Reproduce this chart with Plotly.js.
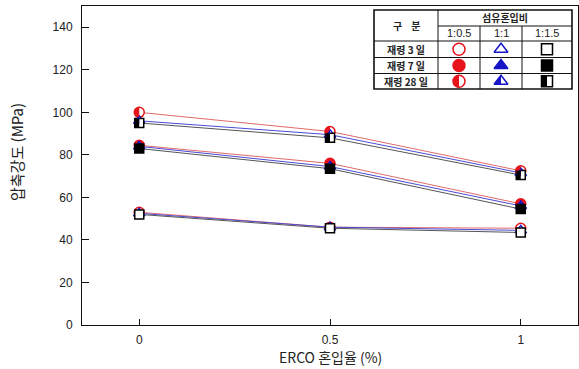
<!DOCTYPE html>
<html><head><meta charset="utf-8">
<script src="https://cdn.plot.ly/plotly-3.0.1.min.js"></script>
<style>html,body{margin:0;padding:0;background:#fff}#chart{width:579px;height:369px}</style>
</head><body><div id="chart"></div>
<script>
// ---- data ----
const ercoRatio = [0, 0.5, 1];
const xTickLabels = ['0', '0.5', '1'];
const yTickValues = [0, 20, 40, 60, 80, 100, 120, 140];
const ageLabels = ['재령 3 일', '재령 7 일', '재령 28 일'];
const fiberRatios = ['1:0.5', '1:1', '1:1.5'];
const day3_r05 = [53, 46, 45.5];
const day3_r1 = [52.5, 46, 44.5];
const day3_r15 = [52, 45.5, 43.5];
const day7_r05 = [84.5, 76, 57];
const day7_r1 = [84, 74.5, 56];
const day7_r15 = [83, 73.5, 54.5];
const day28_r05 = [100, 91, 72.5];
const day28_r1 = [96, 89.5, 71.5];
const day28_r15 = [95, 88, 70.5];

// ---- styling ----
const W = 579, H = 369, L = 82, R = 1, T = 6, B = 44;
const markColors = ['#e8141b', '#1616c8', '#000000'];
const lineColors = ['#e06a6a', '#4a4ad8', '#555555'];
const symbols = ['circle', 'triangle-up', 'square'];
const markSizes = [10, 10, 9];
const legendSizes = [12, 12, 11];

const series = [
  [day3_r05, day3_r1, day3_r15],
  [day7_r05, day7_r1, day7_r15],
  [day28_r05, day28_r1, day28_r15]
];

// left-half fill path (pixel units, y up) for each symbol kind
function halfPath(kind, size) {
  const r = size / 2;
  let pts = [];
  if (kind === 0) {
    for (let i = 0; i <= 16; i++) { const t = Math.PI * i / 16; pts.push([-r * Math.sin(t), r * Math.cos(t)]); }
  } else if (kind === 1) {
    const rt = r * 2 / Math.sqrt(3);
    pts = [[-rt, -r / 2], [0, -r / 2], [0, r]];
  } else {
    pts = [[-r, -r], [0, -r], [0, r], [-r, r]];
  }
  return 'M' + pts.map(p => p[0].toFixed(2) + ',' + p[1].toFixed(2)).join('L') + 'Z';
}

const shapes = [];
const traces = [];
series.forEach((ageSeries, a) => {
  ageSeries.forEach((vals, r) => {
    traces.push({
      x: ercoRatio, y: vals, type: 'scatter', mode: 'lines+markers',
      line: {color: lineColors[r], width: 1},
      marker: {symbol: symbols[r], size: markSizes[r],
               color: a === 1 ? markColors[r] : '#ffffff',
               line: {color: markColors[r], width: 1.5}},
      hoverinfo: 'skip'
    });
    if (a === 2) {
      ercoRatio.forEach((xv, i) => shapes.push({type: 'path', xref: 'x', yref: 'y',
        xsizemode: 'pixel', ysizemode: 'pixel', xanchor: xv, yanchor: vals[i],
        path: halfPath(r, markSizes[r]), fillcolor: markColors[r], line: {width: 0}}));
    }
  });
});

// ---- legend table (pixel geometry) ----
const colEdges = [374, 438, 480, 522, 572];
const rowEdges = [10, 26, 41, 57.5, 73.5, 89];
const pw = W - L - R, ph = H - T - B;
const px = p => (p - L) / pw;
const py = p => (H - B - p) / ph;
const ln = (x0, y0, x1, y1, w) => shapes.push({type: 'line', xref: 'paper', yref: 'paper',
  x0: px(x0), y0: py(y0), x1: px(x1), y1: py(y1), line: {color: '#111', width: w || 1}});
shapes.push({type: 'rect', xref: 'paper', yref: 'paper', x0: px(colEdges[0]), x1: px(colEdges[4]),
  y0: py(rowEdges[0]), y1: py(rowEdges[5]), line: {color: '#111', width: 1.6}, fillcolor: '#ffffff', layer: 'below'});
ln(colEdges[1], rowEdges[0], colEdges[1], rowEdges[5]);
ln(colEdges[2], rowEdges[1], colEdges[2], rowEdges[5]);
ln(colEdges[3], rowEdges[1], colEdges[3], rowEdges[5]);
ln(colEdges[1], rowEdges[1], colEdges[4], rowEdges[1]);
for (let i = 2; i <= 4; i++) ln(colEdges[0], rowEdges[i], colEdges[4], rowEdges[i]);

const cFont = {family: 'Noto Sans CJK KR', size: 10, color: '#222'};
const annotations = [];
const note = (text, cx, cy, font) => annotations.push({text: text, xref: 'paper', yref: 'paper',
  x: px(cx), y: py(cy), showarrow: false, xanchor: 'center', yanchor: 'middle', font: font || cFont});
note('<b>구    분</b>', (colEdges[0] + colEdges[1]) / 2, (rowEdges[0] + rowEdges[2]) / 2);
note('<b>섬유혼입비</b>', (colEdges[1] + colEdges[4]) / 2, (rowEdges[0] + rowEdges[1]) / 2);
fiberRatios.forEach((f, i) => note(f, (colEdges[i + 1] + colEdges[i + 2]) / 2, (rowEdges[1] + rowEdges[2]) / 2,
  {family: 'Liberation Sans, Arial', size: 11, color: '#222'}));
ageLabels.forEach((a, i) => note('<b>' + a + '</b>', (colEdges[0] + colEdges[1]) / 2, (rowEdges[i + 2] + rowEdges[i + 3]) / 2));
// axis titles
annotations.push({text: '압축강도 (MPa)', xref: 'paper', yref: 'paper', x: px(17), y: py(152),
  showarrow: false, textangle: -90, xanchor: 'center', yanchor: 'middle',
  font: {family: 'Noto Sans CJK KR', size: 15, color: '#222'}});
annotations.push({text: 'ERCO 혼입율 (%)', xref: 'x', yref: 'paper', x: ercoRatio[1], y: py(357),
  showarrow: false, xanchor: 'center', yanchor: 'middle', borderpad: 0,
  font: {family: 'Noto Sans CJK KR', size: 14, color: '#222'}});

// legend symbols on a pixel-space overlay axis
const colCenters = [0, 1, 2].map(i => (colEdges[i + 1] + colEdges[i + 2]) / 2);
const rowCenters = [0, 1, 2].map(i => (rowEdges[i + 2] + rowEdges[i + 3]) / 2);
[0, 1, 2].forEach(r => {
  traces.push({x: [colCenters[r], colCenters[r], colCenters[r]], y: rowCenters, xaxis: 'x2', yaxis: 'y2',
    type: 'scatter', mode: 'markers', hoverinfo: 'skip',
    marker: {symbol: symbols[r], size: legendSizes[r],
      color: ['#ffffff', markColors[r], '#ffffff'], line: {color: markColors[r], width: 1.5}}});
  shapes.push({type: 'path', xref: 'x2', yref: 'y2', xsizemode: 'pixel', ysizemode: 'pixel',
    xanchor: colCenters[r], yanchor: rowCenters[2], path: halfPath(r, legendSizes[r]),
    fillcolor: markColors[r], line: {width: 0}});
});

const tickFont = {family: 'Liberation Sans, Arial', size: 12, color: '#222'};
const layout = {
  width: W, height: H, margin: {l: L, r: R, t: T, b: B},
  paper_bgcolor: '#fff', plot_bgcolor: '#fff', showlegend: false, hovermode: false,
  xaxis: {range: [-0.15, 1.15], tickvals: ercoRatio, ticktext: xTickLabels, ticks: 'inside', ticklen: 6,
    tickcolor: '#111', showgrid: false, zeroline: false, showline: true, mirror: true, linecolor: '#111',
    linewidth: 1, tickfont: tickFont, ticklabelstandoff: 4},
  yaxis: {range: [0, 150], tickvals: yTickValues, ticks: 'inside', ticklen: 7, tickcolor: '#111',
    showgrid: false, zeroline: false, showline: true, mirror: true, linecolor: '#111', linewidth: 1,
    tickfont: tickFont, ticklabelstandoff: 6},
  xaxis2: {overlaying: 'x', range: [L, W - R], visible: false, fixedrange: true},
  yaxis2: {overlaying: 'y', range: [H - B, T], visible: false, fixedrange: true},
  shapes: shapes, annotations: annotations
};
Plotly.newPlot('chart', traces, layout, {staticPlot: true});
</script></body></html>
